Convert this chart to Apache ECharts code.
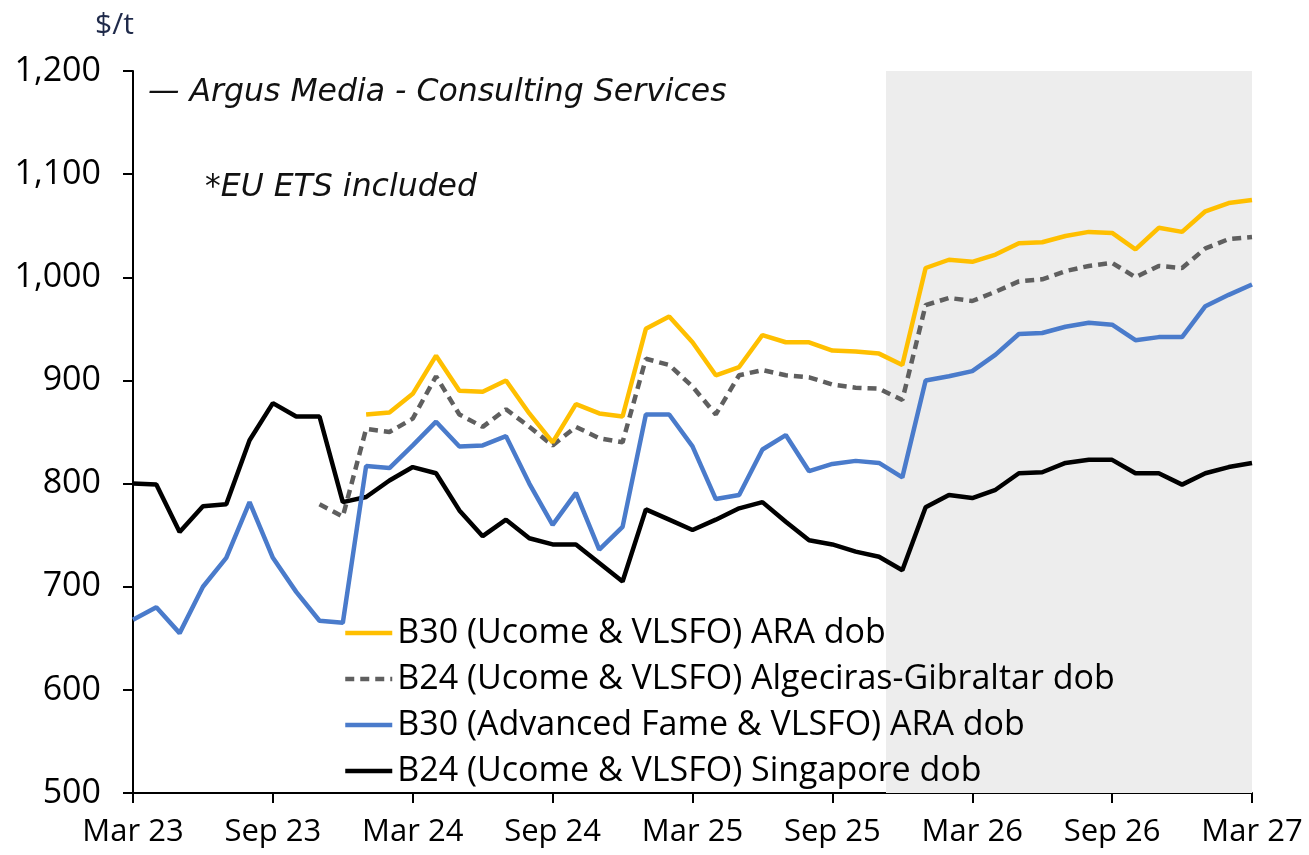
<!DOCTYPE html>
<html>
<head>
<meta charset="utf-8">
<script src="https://cdn.jsdelivr.net/npm/echarts/dist/echarts.min.js"></script>
<style>
  html, body { margin: 0; padding: 0; background: #fff; }
  #chart { width: 1309px; height: 855px; }
</style>
</head>
<body>
<div id="chart"></div>
<script>
// x axis: months since Mar 23, one tick label every 6 months
const tickLabels = ['Mar 23', 'Sep 23', 'Mar 24', 'Sep 24', 'Mar 25', 'Sep 25', 'Mar 26', 'Sep 26', 'Mar 27'];
const forecastStart = 32.3; // shaded forecast period starts here (months after Mar 23)

// Mar 23 .. Mar 27
const singapore = [800, 799, 753, 778, 780, 842, 878, 865, 865, 782, 787, 803, 816, 810, 774, 749, 765, 747, 741, 741,
  723, 705, 775, 765, 755, 765, 776, 782, 763, 745, 741, 734, 729, 716, 777, 789, 786, 794, 810, 811,
  820, 823, 823, 810, 810, 799, 810, 816, 820];
// Mar 23 .. Mar 27
const advFame = [668, 680, 655, 700, 728, 782, 728, 695, 667, 665, 817, 815, 837, 860, 836, 837, 846, 800, 760, 791,
  736, 758, 867, 867, 836, 785, 789, 833, 847, 812, 819, 822, 820, 806, 900, 904, 909, 925, 945, 946,
  952, 956, 954, 939, 942, 942, 972, 983, 993];
// Jan 24 .. Mar 27
const ucomeAra = [867, 869, 887, 924, 890, 889, 900, 868, 840, 877, 868, 865, 950, 962, 937, 905, 913, 944, 937, 937,
  929, 928, 926, 915, 1009, 1017, 1015, 1022, 1033, 1034, 1040, 1044, 1043, 1027, 1048, 1044, 1064, 1072, 1075];
// Nov 23 .. Mar 27
const algeciras = [780, 768, 853, 850, 863, 904, 867, 855, 872, 855, 837, 855, 844, 840, 921, 915, 894, 867, 905, 910,
  905, 903, 896, 893, 892, 881, 973, 980, 977, 986, 996, 998, 1006, 1011, 1014, 1000, 1011, 1009, 1028, 1037, 1039];

const names = [
  'B30 (Ucome & VLSFO) ARA dob',
  'B24 (Ucome & VLSFO) Algeciras-Gibraltar dob',
  'B30 (Advanced Fame & VLSFO) ARA dob',
  'B24 (Ucome & VLSFO) Singapore dob'
];

const FONT = '"Open Sans", "DejaVu Sans", sans-serif';
const NOTE_FONT = '"DejaVu Sans", sans-serif';

function toPoints(vals, start) {
  return vals.map((v, i) => [start + i, v]);
}

function lineSeries(name, data, color, type) {
  return {
    name: name,
    type: 'line',
    data: data,
    symbol: 'none',
    z: 3,
    lineStyle: { color: color, width: 4.5, type: type || 'solid' },
    itemStyle: { color: color }
  };
}

const chart = echarts.init(document.getElementById('chart'));

chart.setOption({
  animation: false,
  backgroundColor: '#fff',
  textStyle: { fontFamily: FONT },
  grid: { left: 133, right: 57, top: 71, bottom: 62 },
  xAxis: {
    type: 'value',
    min: 0,
    max: 48,
    interval: 6,
    axisLine: { lineStyle: { color: '#000', width: 2 } },
    axisTick: { show: true, length: 10, lineStyle: { color: '#000', width: 2 } },
    splitLine: { show: false },
    axisLabel: {
      color: '#000',
      fontSize: 31,
      fontFamily: FONT,
      margin: 24,
      formatter: v => tickLabels[v / 6]
    }
  },
  yAxis: {
    type: 'value',
    min: 500,
    max: 1200,
    interval: 100,
    axisLine: { show: true, lineStyle: { color: '#000', width: 2 } },
    axisTick: { show: true, length: 10, lineStyle: { color: '#000', width: 2 } },
    splitLine: { show: false },
    axisLabel: {
      color: '#000',
      fontSize: 34,
      fontFamily: FONT,
      margin: 32,
      formatter: v => v.toLocaleString('en-US')
    }
  },
  legend: {
    data: names,
    orient: 'vertical',
    left: 338,
    top: 610,
    itemWidth: 47,
    itemHeight: 14,
    itemGap: 10,
    itemStyle: { opacity: 0 },
    lineStyle: { width: 4.5 },
    textStyle: { color: '#000', fontSize: 34, fontFamily: FONT, lineHeight: 36 }
  },
  graphic: [
    {
      type: 'text', x: 95, y: 25,
      style: { text: '$/t', fill: '#1F2A4A', font: '30px ' + FONT, verticalAlign: 'middle' }
    },
    {
      type: 'text', x: 148, y: 93,
      style: { text: '— Argus Media - Consulting Services', fill: '#111', font: 'italic 31.5px ' + NOTE_FONT, verticalAlign: 'middle' }
    },
    {
      type: 'text', x: 205, y: 188,
      style: { text: '*EU ETS included', fill: '#111', font: 'italic 31.5px ' + NOTE_FONT, verticalAlign: 'middle' }
    }
  ],
  series: [
    {
      name: 'forecast',
      type: 'line',
      data: [],
      z: 1,
      markArea: {
        silent: true,
        itemStyle: { color: '#EDEDED' },
        data: [[{ xAxis: forecastStart }, { xAxis: 48 }]]
      }
    },
    lineSeries(names[3], toPoints(singapore, 0), '#000000'),
    lineSeries(names[2], toPoints(advFame, 0), '#4A7BCB'),
    lineSeries(names[1], toPoints(algeciras, 8), '#5F5F5F', [9, 6]),
    lineSeries(names[0], toPoints(ucomeAra, 10), '#FFBF00')
  ]
});
</script>
</body>
</html>
